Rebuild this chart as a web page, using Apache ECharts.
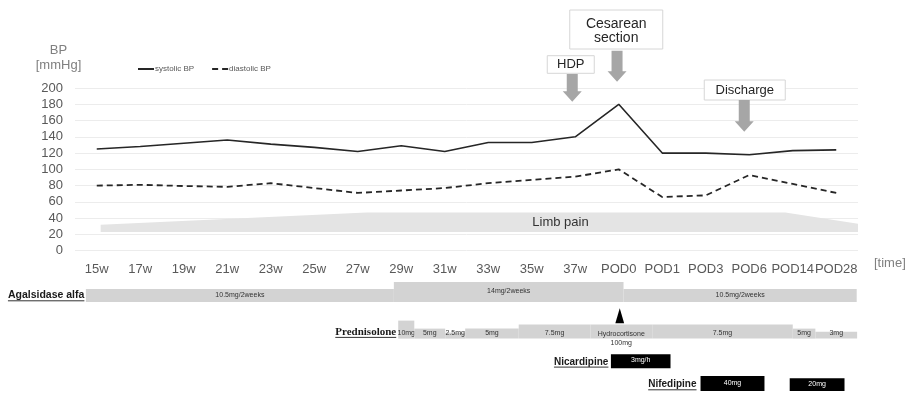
<!DOCTYPE html>
<html><head><meta charset="utf-8">
<script src="https://cdn.jsdelivr.net/npm/echarts@6/dist/echarts.min.js"></script>
<style>html,body{margin:0;padding:0;background:#fff}#c{width:914px;height:394px}</style>
</head><body><div id="c"></div>
<script>
// ---------- data ----------
const categories = ['15w','17w','19w','21w','23w','25w','27w','29w','31w','33w','35w','37w','POD0','POD1','POD3','POD6','POD14','POD28'];
const systolicBP = [125,128,132,136,131,127,122,129,122,133,133,140,180,120,120,118,123,124];
const diastolicBP = [80,81,79.5,78.5,83,77,71,74,77,83,87,91,100,66,68,93,82,71];
const yMin = 0, yMax = 200, yInterval = 20;
// limb pain band (x in category-index units)
const limbPainX = [0.09, 6.2, 15.83, 17.5];
const limbPainTop = [32, 47, 47, 33];
const limbPainBottom = [23, 23, 23, 23];
// treatments: [from, to, dose, label] in category-index units
const agalsidase = [[-0.25, 6.83, 10.5, '10.5mg/2weeks'], [6.83, 12.11, 14, '14mg/2weeks'], [12.11, 17.47, 10.5, '10.5mg/2weeks']];
const prednisolone = [[6.93, 7.30, 10, '10mg'], [7.30, 8.01, 5, '5mg'], [8.01, 8.47, 2.5, '2.5mg'], [8.47, 9.70, 5, '5mg'], [9.70, 11.35, 7.5, '7.5mg'], [11.35, 12.77, 7.5, ''], [12.77, 16.00, 7.5, '7.5mg'], [16.00, 16.52, 5, '5mg'], [16.52, 17.48, 3, '3mg']];
const hydrocortisone = [[12, 'Hydrocortisone', '100mg']];
const nicardipine = [[11.82, 13.19, 3, '3mg/h']];
const nifedipine = [[13.88, 15.35, 40, '40mg'], [15.93, 17.19, 20, '20mg']];
const events = [['37w', 'HDP'], ['POD0', 'Cesarean\nsection'], ['POD6', 'Discharge']];

// ---------- layout ----------
const FONT = 'Liberation Sans, Arial, Helvetica, sans-serif';
const eventLayout = [
  {boxDx: -4.5, w: 47, top: 55.7, h: 17.6, size: 13, arrowDx: -3, aTop: 74, aTip: 101.7},
  {boxDx: -2.5, w: 93, top: 10, h: 39, size: 14, arrowDx: -1.7, aTop: 50.7, aTip: 81.7, textDy: 1.5},
  {boxDx: -4.5, w: 81, top: 80, h: 20, size: 13, arrowDx: -5, aTop: 100, aTip: 131.7}
];
const ctx = document.createElement('canvas').getContext('2d');
function textW(t, font) { ctx.font = font; return ctx.measureText(t).width; }

function makeRow(segments, lay) {
  return {
    type: 'custom', xAxisIndex: 1, yAxisIndex: 0, clip: false, silent: true, z: 5,
    data: segments.map(s => [s[0], s[1], s[2]]),
    renderItem: function (params, api) {
      const s = segments[params.dataIndex];
      const x0 = api.coord([s[0], 0])[0], x1 = api.coord([s[1], 0])[0];
      const h = lay.h(s[2]);
      const ch = [{type: 'rect', shape: {x: x0, y: lay.base - h, width: x1 - x0, height: h}, style: {fill: lay.fill}}];
      if (s[3]) ch.push({type: 'text', style: {text: s[3], x: (x0 + x1) / 2, y: lay.labelY(h), align: 'center', verticalAlign: 'middle', fontSize: 7, fontFamily: FONT, fill: lay.textColor}});
      if (params.dataIndex === 0) {
        const font = 'bold ' + lay.titleSize + 'px ' + lay.titleFont;
        const w = textW(lay.title, font);
        const tx = x0 - lay.titleGap;
        ch.push({type: 'text', style: {text: lay.title, x: tx, y: lay.base - 6.5, align: 'right', verticalAlign: 'middle', fontSize: lay.titleSize, fontWeight: 'bold', fontFamily: lay.titleFont, fill: '#1a1a1a'}});
        ch.push({type: 'line', shape: {x1: tx - w, y1: lay.base - 1.2, x2: tx, y2: lay.base - 1.2}, style: {stroke: '#333', lineWidth: 1}});
      }
      return {type: 'group', children: ch};
    }
  };
}

const chart = echarts.init(document.getElementById('c'));
const option = {
  animation: false,
  backgroundColor: '#fff',
  textStyle: {fontFamily: FONT},
  legend: {
    left: 137, top: 65, padding: 0, itemWidth: 16, itemHeight: 8, itemGap: 17,
    itemStyle: {opacity: 0},
    textStyle: {fontSize: 8, color: '#595959', fontFamily: FONT, padding: [0, 0, 0, -4]},
    data: ['systolic BP', 'diastolic BP']
  },
  grid: {left: 75, right: 56, top: 88, bottom: 143.3},
  xAxis: [{
    type: 'category', data: categories, boundaryGap: true,
    axisLine: {show: false}, axisTick: {show: false},
    axisLabel: {color: '#595959', fontSize: 13, margin: 12, fontFamily: FONT, interval: 0},
    name: '[time]', nameLocation: 'end', nameGap: 16,
    nameTextStyle: {color: '#808080', fontSize: 13, verticalAlign: 'top', padding: [6, 0, 0, 0], fontFamily: FONT}
  }, {
    type: 'value', min: -0.5, max: 17.5, show: false
  }],
  yAxis: [{
    type: 'value', min: yMin, max: yMax, interval: yInterval,
    axisLine: {show: false}, axisTick: {show: false},
    axisLabel: {color: '#595959', fontSize: 13, margin: 12, fontFamily: FONT},
    splitLine: {lineStyle: {color: '#ececec', width: 1}}
  }],
  series: [
    {
      type: 'custom', xAxisIndex: 1, yAxisIndex: 0, silent: true, z: 1,
      data: [[0, 0]],
      renderItem: function (params, api) {
        const pts = [];
        for (let i = 0; i < limbPainX.length; i++) pts.push(api.coord([limbPainX[i], limbPainTop[i]]));
        for (let i = limbPainX.length - 1; i >= 0; i--) pts.push(api.coord([limbPainX[i], limbPainBottom[i]]));
        const c = api.coord([10.66, 35]);
        return {type: 'group', children: [
          {type: 'polygon', shape: {points: pts}, style: {fill: '#e4e4e4'}},
          {type: 'text', style: {text: 'Limb pain', x: c[0], y: c[1], align: 'center', verticalAlign: 'middle', fontSize: 13, fontFamily: FONT, fill: '#333'}}
        ]};
      }
    },
    {
      name: 'systolic BP', type: 'line', data: systolicBP, symbol: 'none', z: 3,
      lineStyle: {color: '#262626', width: 1.6}, itemStyle: {color: '#262626'}
    },
    {
      name: 'diastolic BP', type: 'line', data: diastolicBP, symbol: 'none', z: 3,
      lineStyle: {color: '#262626', width: 1.8, type: [6, 4]}, itemStyle: {color: '#262626'}
    },
    makeRow(agalsidase, {base: 302, h: d => 2 * d - 8, fill: '#d3d3d3', textColor: '#333', labelY: h => 302 - h / 2 - 0.5,
      title: 'Agalsidase alfa', titleSize: 10.5, titleFont: FONT, titleGap: 1.5}),
    makeRow(prednisolone, {base: 338.6, h: d => 1.6 * d + 2, fill: '#d3d3d3', textColor: '#333', labelY: h => 333.2,
      title: 'Prednisolone', titleSize: 11, titleFont: 'Liberation Serif, Times New Roman, serif', titleGap: 2}),
    makeRow(nicardipine, {base: 368.3, h: d => 14, fill: '#000', textColor: '#fff', labelY: h => 360.5,
      title: 'Nicardipine', titleSize: 10, titleFont: FONT, titleGap: 2.5}),
    makeRow(nifedipine, {base: 391, h: d => 10.4 + 0.115 * d, fill: '#000', textColor: '#fff', labelY: h => 391 - h / 2 - 0.5,
      title: 'Nifedipine', titleSize: 10, titleFont: FONT, titleGap: 4}),
    {
      type: 'custom', xAxisIndex: 1, yAxisIndex: 0, clip: false, silent: true, z: 6,
      data: hydrocortisone.map(h => [h[0], 0]),
      renderItem: function (params, api) {
        const e = hydrocortisone[params.dataIndex];
        const x = api.coord([e[0], 0])[0] + 1;
        return {type: 'group', children: [
          {type: 'polygon', shape: {points: [[x - 4.4, 323.3], [x + 4.4, 323.3], [x, 308.3]]}, style: {fill: '#000'}},
          {type: 'text', style: {text: e[1], x: x + 1.5, y: 334, align: 'center', verticalAlign: 'middle', fontSize: 7, fontFamily: FONT, fill: '#333'}},
          {type: 'text', style: {text: e[2], x: x + 1.5, y: 342.7, align: 'center', verticalAlign: 'middle', fontSize: 7, fontFamily: FONT, fill: '#333'}}
        ]};
      }
    }
  ]
};
chart.setOption(option);

// axis title, annotation boxes & arrows anchored to categories
const g = [
  {type: 'text', style: {text: 'BP', x: 58.5, y: 50.7, align: 'center', verticalAlign: 'middle', fontSize: 13, fontFamily: FONT, fill: '#808080'}},
  {type: 'text', style: {text: '[mmHg]', x: 58.5, y: 65.7, align: 'center', verticalAlign: 'middle', fontSize: 13, fontFamily: FONT, fill: '#808080'}}
];
events.forEach((ev, i) => {
  const L = eventLayout[i];
  const cx = chart.convertToPixel({xAxisIndex: 0}, ev[0]);
  const bx = cx + L.boxDx, ax = cx + L.arrowDx;
  g.push({type: 'rect', shape: {x: bx - L.w / 2, y: L.top, width: L.w, height: L.h}, style: {fill: '#fff', stroke: '#d6d6d6', lineWidth: 1}, z: 10});
  g.push({type: 'text', style: {text: ev[1], x: bx, y: L.top + L.h / 2 + (L.textDy || 0), align: 'center', verticalAlign: 'middle', fontSize: L.size, lineHeight: 13.5, fontFamily: FONT, fill: '#262626'}, z: 11});
  const t = L.aTop, tip = L.aTip, hh = 10.5;
  g.push({type: 'polygon', shape: {points: [[ax - 5.5, t], [ax + 5.5, t], [ax + 5.5, tip - hh], [ax + 9.5, tip - hh], [ax, tip], [ax - 9.5, tip - hh], [ax - 5.5, tip - hh]]}, style: {fill: '#a6a6a6'}, z: 10});
});
chart.setOption({graphic: g});
</script>
</body></html>
